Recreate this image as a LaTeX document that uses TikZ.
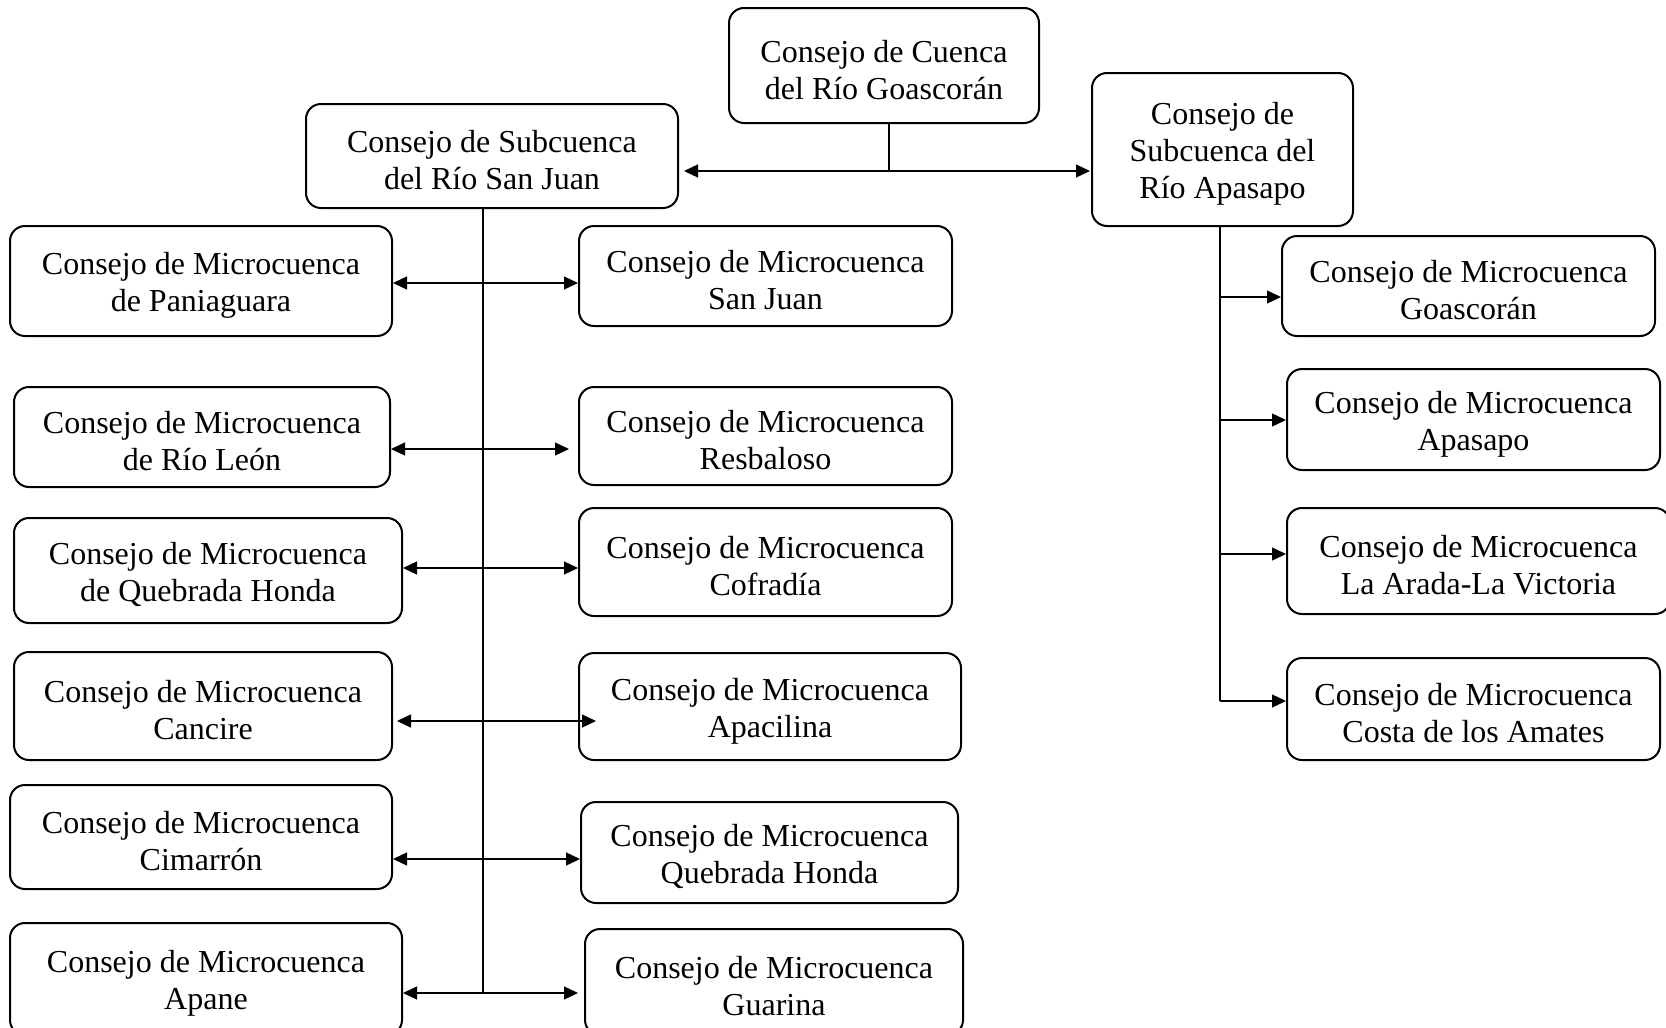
\documentclass[tikz,border=0pt]{standalone}
\usepackage{fontspec}
\setmainfont{Liberation Serif}
\usetikzlibrary{arrows.meta}
\newcommand{\topstrut}{\rule{0pt}{31pt}}
\tikzset{
  box/.style={draw, line width=2pt, rounded corners=15pt, align=center, inner sep=0pt,
    font=\fontsize{32}{37}\selectfont},
  conn/.style={line width=1.3pt},
  arr/.style={conn, -{Triangle[length=14pt,width=13pt]}},
  darr/.style={conn, {Triangle[length=14pt,width=13pt]}-{Triangle[length=14pt,width=13pt]}}
}
\begin{document}
\begin{tikzpicture}[x=1pt,y=-1pt]
\clip (0,0) rectangle (1666,1028);
% top level
\node[box, minimum width=310pt, minimum height=115pt] (cuenca) at (884,65.5) {\topstrut Consejo de Cuenca\\del Río Goascorán};
\node[box, minimum width=372pt, minimum height=104pt] (sjsub) at (492,156) {\topstrut Consejo de Subcuenca\\del Río San Juan};
\node[box, minimum width=261pt, minimum height=153pt] (apsub) at (1222.5,149.5) {\topstrut Consejo de\\Subcuenca del\\Río Apasapo};
% left column
\node[box, minimum width=382pt, minimum height=110pt] (pan) at (201,281) {\topstrut Consejo de Microcuenca\\de Paniaguara};
\node[box, minimum width=376pt, minimum height=100pt] (leon) at (202,437) {\topstrut Consejo de Microcuenca\\de Río León};
\node[box, minimum width=388pt, minimum height=105pt] (qhl) at (208,570.5) {\topstrut Consejo de Microcuenca\\de Quebrada Honda};
\node[box, minimum width=378pt, minimum height=108pt] (canc) at (203,706) {\topstrut Consejo de Microcuenca\\Cancire};
\node[box, minimum width=382pt, minimum height=104pt] (cim) at (201,837) {\topstrut Consejo de Microcuenca\\Cimarrón};
\node[box, minimum width=392pt, minimum height=112pt] (apane) at (206,979) {\topstrut Consejo de Microcuenca\\Apane};
% middle column
\node[box, minimum width=373pt, minimum height=100pt] (sj) at (765.5,276) {\topstrut Consejo de Microcuenca\\San Juan};
\node[box, minimum width=373pt, minimum height=98pt] (resb) at (765.5,436) {\topstrut Consejo de Microcuenca\\Resbaloso};
\node[box, minimum width=373pt, minimum height=108pt] (cofr) at (765.5,562) {\topstrut Consejo de Microcuenca\\Cofradía};
\node[box, minimum width=382pt, minimum height=107pt] (apac) at (770,706.5) {\topstrut Consejo de Microcuenca\\Apacilina};
\node[box, minimum width=377pt, minimum height=101pt] (qhr) at (769.5,852.5) {\topstrut Consejo de Microcuenca\\Quebrada Honda};
\node[box, minimum width=378pt, minimum height=106pt] (guar) at (774,982) {\topstrut Consejo de Microcuenca\\Guarina};
% right column
\node[box, minimum width=373pt, minimum height=100pt] (goas) at (1468.5,286) {\topstrut Consejo de Microcuenca\\Goascorán};
\node[box, minimum width=373pt, minimum height=101pt] (apas) at (1473.5,419.5) {\topstrut Consejo de Microcuenca\\Apasapo};
\node[box, minimum width=383pt, minimum height=106pt] (arada) at (1478.5,561) {\topstrut Consejo de Microcuenca\\La Arada-La Victoria};
\node[box, minimum width=373pt, minimum height=102pt] (costa) at (1473.5,709) {\topstrut Consejo de Microcuenca\\Costa de los Amates};
% top connector
\coordinate (j0) at (889,171);
\draw[conn] (cuenca.south -| j0) -- (j0);
\draw[darr, shorten <=5pt, shorten >=1pt] (sjsub.east |- j0) -- (apsub.west |- j0);
% San Juan trunk
\coordinate (tb) at (483,993);
\draw[conn] (sjsub.south -| tb) -- (tb);
\coordinate (t1) at (483,283);
\coordinate (t2) at (483,449);
\coordinate (t3) at (483,568);
\coordinate (t4) at (483,721);
\coordinate (t5) at (483,859);
\coordinate (t6) at (483,993);
\draw[darr] (pan.east |- t1) -- (sj.west |- t1);
\draw[darr, shorten >=9pt] (leon.east |- t2) -- (resb.west |- t2);
\draw[darr] (qhl.east |- t3) -- (cofr.west |- t3);
\draw[darr, shorten <=4pt, shorten >=-18pt] (canc.east |- t4) -- (apac.west |- t4);
\draw[darr] (cim.east |- t5) -- (qhr.west |- t5);
\draw[darr, shorten >=6pt] (apane.east |- t6) -- (guar.west |- t6);
% Apasapo trunk
\coordinate (a1) at (1220,297);
\coordinate (a2) at (1220,420);
\coordinate (a3) at (1220,554);
\coordinate (a4) at (1220,701);
\draw[conn] (apsub.south -| a4) -- (a4);
\draw[arr] (a1) -- (goas.west |- a1);
\draw[arr] (a2) -- (apas.west |- a2);
\draw[arr] (a3) -- (arada.west |- a3);
\draw[arr] (a4) -- (costa.west |- a4);
\end{tikzpicture}
\end{document}
